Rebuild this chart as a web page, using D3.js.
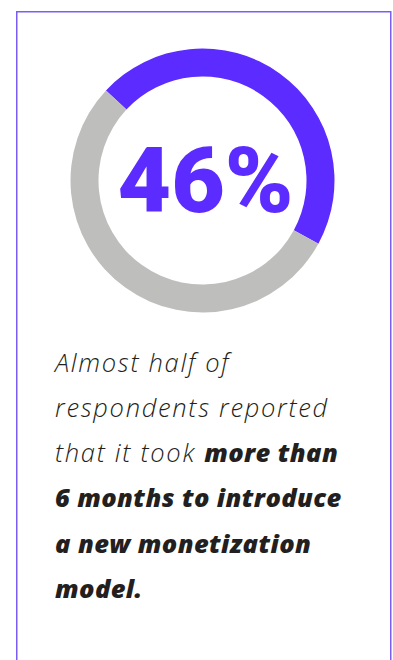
<!DOCTYPE html>
<html>
<head>
<meta charset="utf-8">
<script src="https://cdn.jsdelivr.net/npm/d3@7"></script>
<style>
  html, body { margin: 0; padding: 0; background: #fff; }
</style>
</head>
<body>
<div id="graph"></div>
<script>
const categories = ["More than 6 months", "Other"];
const values = [46, 54];
const sliceColors = ["#5b2bff", "#bebfbd"];
const headline = "46%";
// caption lines, each a list of [text, bold]
const captionLines = [
    [["Almost half of", false]],
    [["respondents reported", false]],
    [["that it took ", false], ["more than", true]],
    [["6 months to introduce", true]],
    [["a new monetization", true]],
    [["model.", true]]
];

const width = 393,
    height = 660;

const svg = d3.select("#graph")
    .append("svg")
    .attr("width", width)
    .attr("height", height);

// card border
svg.append("rect")
    .attr("x", 16.75)
    .attr("y", 11.75)
    .attr("width", 374)
    .attr("height", 700)
    .attr("fill", "none")
    .attr("stroke", "#7c5cf6")
    .attr("stroke-width", 1.5);

const cx = 202.5,
    cy = 180.5;

const pie = d3.pie()
    .sort(null)
    .startAngle(-47 * Math.PI / 180)
    .endAngle((360 - 47) * Math.PI / 180);

const arc = d3.arc()
    .innerRadius(104)
    .outerRadius(132);

const donut = svg.append("g")
    .attr("transform", "translate(" + cx + "," + cy + ")");

donut.selectAll("path")
    .data(pie(values))
    .enter()
    .append("path")
    .attr("d", arc)
    .attr("fill", function (d, i) {
        return sliceColors[i];
    });

donut.append("text")
    .attr("x", 3)
    .attr("y", 31)
    .attr("text-anchor", "middle")
    .attr("font-family", "Roboto, sans-serif")
    .attr("font-weight", 900)
    .attr("font-size", 90)
    .attr("textLength", 176)
    .attr("lengthAdjust", "spacingAndGlyphs")
    .attr("fill", sliceColors[0])
    .text(headline);

const caption = svg.append("g")
    .attr("font-family", "'Open Sans', sans-serif")
    .attr("font-size", 25.5)
    .attr("font-style", "italic")
    .attr("fill", "#231f20");

caption.selectAll("text")
    .data(captionLines)
    .enter()
    .append("text")
    .attr("x", 55)
    .attr("y", function (d, i) {
        return 371.5 + i * 45.3;
    })
    .each(function (line) {
        d3.select(this).selectAll("tspan")
            .data(line)
            .enter()
            .append("tspan")
            .attr("font-weight", function (s) {
                return s[1] ? 800 : 300;
            })
            .attr("letter-spacing", function (s) {
                return s[1] ? 0.4 : 1.7;
            })
            .text(function (s) {
                return s[0];
            });
    });
</script>
</body>
</html>
